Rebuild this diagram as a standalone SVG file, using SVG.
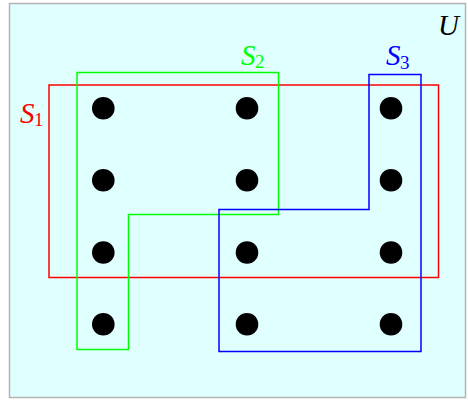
<svg xmlns="http://www.w3.org/2000/svg" width="468" height="400" viewBox="0 0 468 400">
  <style>
    .set { fill: none; stroke-width: 1.5; stroke-linejoin: miter; }
    .lbl { font-family: "Liberation Serif", "DejaVu Serif", serif; font-style: italic; font-size: 29px; }
    .sub { font-style: normal; font-size: 19px; }
    .pt { fill: #000; }
  </style>
  <defs>
    <circle id="dot" r="11.3"/>
  </defs>

  <!-- universe -->
  <g id="universe">
    <rect x="9.5" y="3.5" width="456" height="394" fill="#e0ffff" stroke="#b4b4b4" stroke-width="1.5"/>
    <text class="lbl" x="438" y="35" font-size="32">U</text>
  </g>

  <!-- S1 -->
  <g id="set-s1">
    <rect class="set" x="49" y="85" width="389.5" height="192.5" stroke="#ff0000"/>
    <text class="lbl" x="20" y="122.5" fill="#ff0000">S<tspan class="sub" dx="-0.5" dy="3">1</tspan></text>
  </g>

  <!-- S2 -->
  <g id="set-s2">
    <path class="set" d="M77,72.5 H278.5 V214.5 H128.5 V349.5 H77 Z" stroke="#00ff00"/>
    <text class="lbl" x="241" y="64.5" fill="#00ff00">S<tspan class="sub" dx="-0.5" dy="3.5">2</tspan></text>
  </g>

  <!-- S3 -->
  <g id="set-s3">
    <path class="set" d="M369,74.5 H421 V351.5 H219 V209.5 H369 Z" stroke="#0000ff"/>
    <text class="lbl" x="386" y="65" fill="#0000ff">S<tspan class="sub" dx="-0.5" dy="3.5">3</tspan></text>
  </g>

  <!-- elements: 4 rows x 3 columns -->
  <g id="points" class="pt">
    <use href="#dot" x="103.3" y="108.3"/>
    <use href="#dot" x="247" y="108.3"/>
    <use href="#dot" x="391" y="108.3"/>
    <use href="#dot" x="103.3" y="180.3"/>
    <use href="#dot" x="247" y="180.3"/>
    <use href="#dot" x="391" y="180.3"/>
    <use href="#dot" x="103.3" y="252.5"/>
    <use href="#dot" x="247" y="252.5"/>
    <use href="#dot" x="391" y="252.5"/>
    <use href="#dot" x="103.3" y="324.3"/>
    <use href="#dot" x="247" y="324.3"/>
    <use href="#dot" x="391" y="324.3"/>
  </g>

  <g id="connectors"/>
</svg>
